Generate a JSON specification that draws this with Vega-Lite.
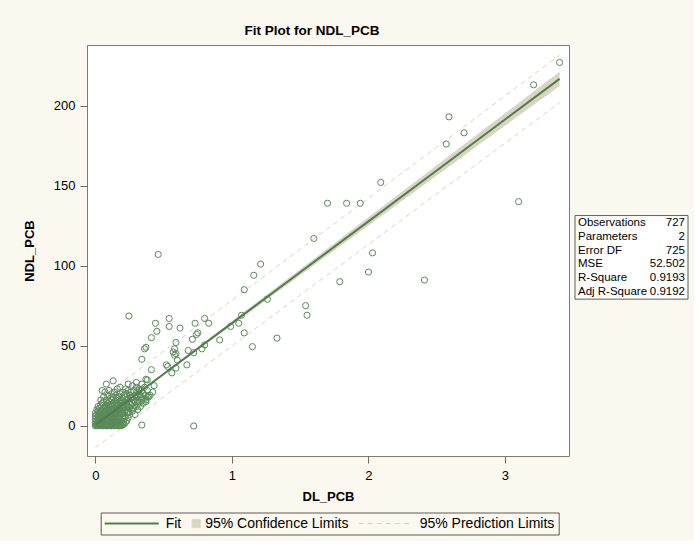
{
 "$schema": "https://vega.github.io/schema/vega-lite/v6.json",
 "background": "#FBF8F0",
 "padding": {"left": 22, "top": 23, "right": 5, "bottom": 5},
 "bounds": "flush",
 "spacing": 6,
 "config": {"font": "Liberation Sans", "view": {"stroke": null}},
 "datasets": {
  "fit": [
   {"DL": 0, "fit": 0.5, "clo": -0.09, "chi": 1.09, "plo": -13.74, "phi": 14.74},
   {"DL": 0.5, "fit": 32.3, "clo": 31.63, "chi": 32.97, "plo": 18.06, "phi": 46.54},
   {"DL": 1, "fit": 64.1, "clo": 62.88, "chi": 65.32, "plo": 49.82, "phi": 78.38},
   {"DL": 1.5, "fit": 95.9, "clo": 94.04, "chi": 97.76, "plo": 81.54, "phi": 110.26},
   {"DL": 2, "fit": 127.7, "clo": 125.17, "chi": 130.23, "plo": 113.25, "phi": 142.15},
   {"DL": 2.5, "fit": 159.5, "clo": 156.3, "chi": 162.7, "plo": 144.9, "phi": 174.1},
   {"DL": 3, "fit": 191.3, "clo": 187.42, "chi": 195.18, "plo": 176.55, "phi": 206.05},
   {"DL": 3.4, "fit": 216.7, "clo": 212.27, "chi": 221.13, "plo": 201.8, "phi": 231.6}
  ],
  "stats": [
   {"stat": "Observations", "val": "727", "row": 1},
   {"stat": "Parameters", "val": "2", "row": 2},
   {"stat": "Error DF", "val": "725", "row": 3},
   {"stat": "MSE", "val": "52.502", "row": 4},
   {"stat": "R-Square", "val": "0.9193", "row": 5},
   {"stat": "Adj R-Square", "val": "0.9192", "row": 6}
  ],
  "pts": [
   {"x":0,"y":0},{"x":0,"y":1},{"x":0,"y":2},{"x":0,"y":4},{"x":0,"y":6},{"x":0,"y":8},
   {"x":0.01,"y":0},{"x":0.01,"y":0.5},{"x":0.01,"y":3},{"x":0.01,"y":5},{"x":0.01,"y":7},{"x":0.01,"y":10},
   {"x":0.02,"y":0},{"x":0.02,"y":1},{"x":0.02,"y":2},{"x":0.02,"y":4},{"x":0.02,"y":6},{"x":0.02,"y":9},{"x":0.02,"y":12},
   {"x":0.03,"y":0},{"x":0.03,"y":1.5},{"x":0.03,"y":3},{"x":0.03,"y":5},{"x":0.03,"y":8},{"x":0.03,"y":11},
   {"x":0.04,"y":0},{"x":0.04,"y":1},{"x":0.04,"y":2.5},{"x":0.04,"y":4},{"x":0.04,"y":6},{"x":0.04,"y":9},{"x":0.04,"y":13},{"x":0.04,"y":16},
   {"x":0.05,"y":0},{"x":0.05,"y":2},{"x":0.05,"y":3.5},{"x":0.05,"y":5},{"x":0.05,"y":7},{"x":0.05,"y":10},{"x":0.05,"y":14},{"x":0.05,"y":22},
   {"x":0.06,"y":0},{"x":0.06,"y":1},{"x":0.06,"y":3},{"x":0.06,"y":6},{"x":0.06,"y":8},{"x":0.06,"y":11},{"x":0.06,"y":15},{"x":0.06,"y":18},
   {"x":0.07,"y":0},{"x":0.07,"y":2},{"x":0.07,"y":4},{"x":0.07,"y":5.5},{"x":0.07,"y":9},{"x":0.07,"y":12},{"x":0.07,"y":21},
   {"x":0.08,"y":0},{"x":0.08,"y":1},{"x":0.08,"y":3},{"x":0.08,"y":5},{"x":0.08,"y":7},{"x":0.08,"y":10},{"x":0.08,"y":13},{"x":0.08,"y":16},{"x":0.08,"y":26},
   {"x":0.09,"y":0},{"x":0.09,"y":2.5},{"x":0.09,"y":4.5},{"x":0.09,"y":6},{"x":0.09,"y":8},{"x":0.09,"y":11},{"x":0.09,"y":14},{"x":0.09,"y":19},
   {"x":0.1,"y":0},{"x":0.1,"y":1},{"x":0.1,"y":3},{"x":0.1,"y":5},{"x":0.1,"y":7.5},{"x":0.1,"y":9},{"x":0.1,"y":12},{"x":0.1,"y":15},{"x":0.1,"y":22},
   {"x":0.11,"y":0},{"x":0.11,"y":2},{"x":0.11,"y":4},{"x":0.11,"y":6},{"x":0.11,"y":8},{"x":0.11,"y":10},{"x":0.11,"y":13},{"x":0.11,"y":17},
   {"x":0.12,"y":0},{"x":0.12,"y":1},{"x":0.12,"y":3.5},{"x":0.12,"y":5},{"x":0.12,"y":7},{"x":0.12,"y":9.5},{"x":0.12,"y":12},{"x":0.12,"y":16},{"x":0.12,"y":20},
   {"x":0.13,"y":0},{"x":0.13,"y":2},{"x":0.13,"y":4},{"x":0.13,"y":6.5},{"x":0.13,"y":9},{"x":0.13,"y":11},{"x":0.13,"y":14},{"x":0.13,"y":18},{"x":0.13,"y":28},
   {"x":0.14,"y":0},{"x":0.14,"y":1},{"x":0.14,"y":3},{"x":0.14,"y":5.5},{"x":0.14,"y":8},{"x":0.14,"y":10},{"x":0.14,"y":13},{"x":0.14,"y":15},{"x":0.14,"y":21},
   {"x":0.15,"y":0},{"x":0.15,"y":2},{"x":0.15,"y":4},{"x":0.15,"y":6},{"x":0.15,"y":9},{"x":0.15,"y":12},{"x":0.15,"y":16},{"x":0.15,"y":19},
   {"x":0.16,"y":0},{"x":0.16,"y":1.5},{"x":0.16,"y":3},{"x":0.16,"y":7},{"x":0.16,"y":10},{"x":0.16,"y":14},{"x":0.16,"y":17},{"x":0.16,"y":23},
   {"x":0.17,"y":0},{"x":0.17,"y":2},{"x":0.17,"y":5},{"x":0.17,"y":8},{"x":0.17,"y":11},{"x":0.17,"y":13},{"x":0.17,"y":18},
   {"x":0.18,"y":0},{"x":0.18,"y":1},{"x":0.18,"y":4},{"x":0.18,"y":6},{"x":0.18,"y":9},{"x":0.18,"y":12},{"x":0.18,"y":15},{"x":0.18,"y":20},{"x":0.18,"y":24},
   {"x":0.19,"y":0},{"x":0.19,"y":3},{"x":0.19,"y":7},{"x":0.19,"y":10},{"x":0.19,"y":14},{"x":0.19,"y":16},
   {"x":0.2,"y":0.5},{"x":0.2,"y":2},{"x":0.2,"y":5},{"x":0.2,"y":8},{"x":0.2,"y":11},{"x":0.2,"y":13},{"x":0.2,"y":17},{"x":0.2,"y":21},
   {"x":0.21,"y":1},{"x":0.21,"y":4},{"x":0.21,"y":9},{"x":0.21,"y":12},{"x":0.21,"y":15},{"x":0.21,"y":19},
   {"x":0.22,"y":2},{"x":0.22,"y":6},{"x":0.22,"y":10},{"x":0.22,"y":14},{"x":0.22,"y":18},{"x":0.22,"y":23},
   {"x":0.23,"y":3},{"x":0.23,"y":8},{"x":0.23,"y":13},{"x":0.23,"y":16},{"x":0.23,"y":20},
   {"x":0.24,"y":5},{"x":0.24,"y":8},{"x":0.24,"y":9},{"x":0.24,"y":12},{"x":0.24,"y":17},{"x":0.24,"y":22},{"x":0.24,"y":26},
   {"x":0.25,"y":7},{"x":0.25,"y":11},{"x":0.25,"y":15},{"x":0.25,"y":19},
   {"x":0.26,"y":13},{"x":0.26,"y":17},{"x":0.26,"y":21},
   {"x":0.27,"y":9},{"x":0.27,"y":11},{"x":0.27,"y":14},{"x":0.27,"y":18},{"x":0.27,"y":25},
   {"x":0.28,"y":11},{"x":0.28,"y":16},{"x":0.28,"y":22},
   {"x":0.29,"y":7},{"x":0.29,"y":15},{"x":0.29,"y":19},
   {"x":0.3,"y":12},{"x":0.3,"y":18},{"x":0.3,"y":24},{"x":0.3,"y":27},
   {"x":0.31,"y":10},{"x":0.31,"y":15},{"x":0.31,"y":16},{"x":0.31,"y":21},
   {"x":0.32,"y":14},{"x":0.32,"y":20},{"x":0.32,"y":22},{"x":0.32,"y":23},
   {"x":0.33,"y":12},{"x":0.33,"y":18},
   {"x":0.34,"y":0.4},{"x":0.34,"y":16},{"x":0.34,"y":22},{"x":0.34,"y":26},{"x":0.34,"y":41.5},
   {"x":0.35,"y":14},{"x":0.35,"y":20},{"x":0.46,"y":107},
   {"x":0.36,"y":17},{"x":0.36,"y":24},{"x":0.36,"y":48},
   {"x":0.37,"y":15},{"x":0.37,"y":16},{"x":0.37,"y":19},{"x":0.37,"y":29},{"x":0.37,"y":49},
   {"x":0.38,"y":18},{"x":0.38,"y":22},{"x":0.38,"y":28.6},
   {"x":0.39,"y":18},{"x":0.4,"y":19},{"x":0.41,"y":35},{"x":0.41,"y":55},{"x":0.42,"y":21},{"x":0.43,"y":25},
   {"x":0.44,"y":64},{"x":0.45,"y":59},{"x":0.245,"y":68.5},{"x":0.54,"y":67},{"x":0.54,"y":62},{"x":0.62,"y":61},
   {"x":0.73,"y":64},{"x":0.8,"y":67},{"x":0.83,"y":64},{"x":0.59,"y":52},{"x":0.58,"y":48},{"x":0.74,"y":57},
   {"x":0.75,"y":58},{"x":0.71,"y":54},{"x":0.8,"y":50.5},{"x":0.78,"y":48},{"x":0.68,"y":47},{"x":0.72,"y":45.6},
   {"x":0.91,"y":53.6},{"x":0.99,"y":62},{"x":1.05,"y":64},{"x":1.07,"y":69},{"x":1.09,"y":58},{"x":1.15,"y":49.4},
   {"x":1.33,"y":54.7},{"x":0.59,"y":45},{"x":0.6,"y":41},{"x":0.52,"y":38},{"x":0.53,"y":37},{"x":0.59,"y":36},
   {"x":0.67,"y":38},{"x":0.56,"y":33},{"x":0.57,"y":46},{"x":0.58,"y":44},{"x":0.17,"y":2},{"x":0.72,"y":-0.2},
   {"x":1.21,"y":101},{"x":1.16,"y":94},{"x":1.09,"y":85},{"x":1.26,"y":79},{"x":1.54,"y":75},{"x":1.55,"y":69},
   {"x":1.6,"y":117},{"x":1.7,"y":139},{"x":1.84,"y":139},{"x":1.94,"y":139},{"x":2.09,"y":152},{"x":2.03,"y":108},
   {"x":2.0,"y":96},{"x":1.79,"y":90},{"x":2.41,"y":91},{"x":2.57,"y":176},{"x":2.59,"y":193},{"x":2.7,"y":183},
   {"x":3.1,"y":140},{"x":3.21,"y":213},{"x":3.4,"y":227}
  ]
 },
 "hconcat": [
  {
   "width": 482,
   "height": 411,
   "view": {"stroke": "#7F7B6E", "fill": "#FFFFFF"},
   "title": {"text": "Fit Plot for NDL_PCB", "fontSize": 13.5, "fontWeight": "bold", "font": "Liberation Sans", "color": "#000000", "offset": 8, "anchor": "middle", "dx": -16},
   "layer": [
    {
     "data": {"name": "fit"},
     "mark": {"type": "area", "opacity": 1},
     "encoding": {
      "x": {"field": "DL", "type": "quantitative", "scale": {"domain": [-0.0616, 3.469], "nice": false, "zero": false},
            "axis": {"title": "DL_PCB", "values": [0, 1, 2, 3], "format": "d", "domain": false, "grid": false, "tickSize": 7, "tickColor": "#6F6B60", "labelFontSize": 13, "labelColor": "#000000", "labelPadding": 6, "titleFontSize": 13, "titleFontWeight": "bold", "titleColor": "#000000", "titlePadding": 8}},
      "y": {"field": "clo", "type": "quantitative", "scale": {"domain": [-18.95, 237.9], "nice": false, "zero": false},
            "axis": {"title": "NDL_PCB", "values": [0, 50, 100, 150, 200], "format": "d", "domain": false, "grid": false, "tickSize": 7, "tickColor": "#6F6B60", "labelFontSize": 13, "labelColor": "#000000", "labelPadding": 5, "titleFontSize": 13, "titleFontWeight": "bold", "titleColor": "#000000", "titlePadding": 17}},
      "y2": {"field": "chi"},
      "color": {"datum": "95% Confidence Limits"}
     }
    },
    {
     "data": {"name": "fit"},
     "mark": {"type": "line", "strokeDash": [5, 4], "strokeWidth": 1},
     "encoding": {"x": {"field": "DL", "type": "quantitative"}, "y": {"field": "plo", "type": "quantitative"}, "color": {"datum": "95% Prediction Limits"}}
    },
    {
     "data": {"name": "fit"},
     "mark": {"type": "line", "strokeDash": [5, 4], "strokeWidth": 1},
     "encoding": {"x": {"field": "DL", "type": "quantitative"}, "y": {"field": "phi", "type": "quantitative"}, "color": {"datum": "95% Prediction Limits"}}
    },
    {
     "data": {"name": "pts"},
     "mark": {"type": "point", "shape": "circle", "filled": false, "stroke": "#5A8A5A", "strokeWidth": 1, "size": 38, "opacity": 1},
     "encoding": {"x": {"field": "x", "type": "quantitative"}, "y": {"field": "y", "type": "quantitative"}}
    },
    {
     "data": {"name": "fit"},
     "mark": {"type": "line", "strokeWidth": 2},
     "encoding": {
      "x": {"field": "DL", "type": "quantitative"},
      "y": {"field": "fit", "type": "quantitative"},
      "color": {"datum": "Fit", "scale": {"domain": ["Fit", "95% Confidence Limits", "95% Prediction Limits"], "range": ["#4E7E4E", "#D9D5C2", "#D8D4C4"]},
       "legend": {
        "title": null, "orient": "none", "legendX": 13.7, "legendY": 467.5, "direction": "horizontal",
        "strokeColor": "#5F5B50", "padding": 4, "columnPadding": 7.5,
        "labelFont": "Liberation Sans", "labelFontSize": 14, "labelColor": "#000000", "labelOffset": 6,
        "symbolType": "stroke", "symbolSize": 2916, "symbolStrokeWidth": 2,
        "encode": {
         "symbols": {"update": {
          "shape": {"signal": "datum.value === '95% Confidence Limits' ? 'M-0.15,-0.15H0.15V0.15H-0.15Z' : 'stroke'"},
          "x": {"signal": "datum.value === '95% Confidence Limits' ? 4 : 27"},
          "strokeDash": {"signal": "datum.value === '95% Prediction Limits' ? [5, 4] : [1, 0]"},
          "fill": {"signal": "datum.value === '95% Confidence Limits' ? '#D9D5C2' : 'transparent'"},
          "stroke": {"signal": "datum.value === 'Fit' ? '#4E7E4E' : (datum.value === '95% Confidence Limits' ? '#6F6B60' : '#D8D4C4')"},
          "strokeWidth": {"signal": "datum.value === 'Fit' ? 2 : 1"},
          "opacity": {"value": 1}
         }},
         "labels": {"update": {
          "x": {"signal": "datum.value === '95% Confidence Limits' ? 13 : 61"}
         }}
        }
       }
      }
     }
    }
   ]
  },
  {
   "width": 113,
   "height": 411,
   "view": {"stroke": null},
   "layer": [
    {
     "data": {"values": [{}]},
     "mark": {"type": "rect", "fill": "#FFFFFF", "stroke": "#5F5B50", "strokeWidth": 1},
     "encoding": {
      "x": {"datum": 0, "type": "quantitative", "scale": {"domain": [0, 1]}, "axis": null},
      "x2": {"datum": 1},
      "y": {"datum": 0.45, "type": "quantitative", "scale": {"domain": [-10.1, 16.42], "reverse": true}, "axis": null},
      "y2": {"datum": 6.55}
     }
    },
    {
     "data": {"name": "stats"},
     "mark": {"type": "text", "align": "left", "baseline": "middle", "dx": 3, "fontSize": 11.5, "font": "Liberation Sans", "color": "#000000"},
     "encoding": {"x": {"datum": 0, "type": "quantitative"}, "y": {"field": "row", "type": "quantitative"}, "text": {"field": "stat"}}
    },
    {
     "data": {"name": "stats"},
     "mark": {"type": "text", "align": "right", "baseline": "middle", "dx": -3, "fontSize": 11.5, "font": "Liberation Sans", "color": "#000000"},
     "encoding": {"x": {"datum": 1, "type": "quantitative"}, "y": {"field": "row", "type": "quantitative"}, "text": {"field": "val"}}
    }
   ]
  }
 ],
 "resolve": {"scale": {"x": "independent", "y": "independent", "color": "independent"}, "legend": {"color": "independent"}}
}
